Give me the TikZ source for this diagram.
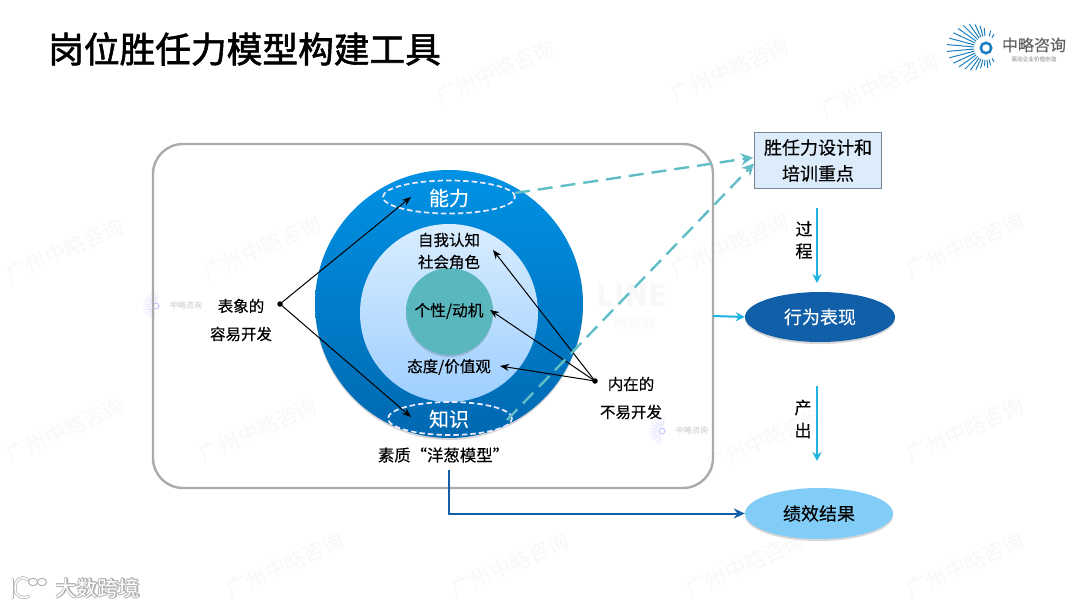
\documentclass[tikz,border=0pt]{standalone}
\usepackage{fontspec}
\setmainfont{Noto Sans CJK SC}
\newfontfamily\titlefont[FakeBold=1.6]{Noto Sans CJK SC}
\newfontfamily\semifont[FakeBold=0.25]{Noto Sans CJK SC}
\usetikzlibrary{shapes.geometric,shadows,arrows.meta,calc}
\newcommand{\pxfont}[2]{\fontsize{#1}{#2}\selectfont}
\definecolor{cyanline}{HTML}{1DB4E2}
\definecolor{tealdash}{HTML}{62BEC6}
\definecolor{navy}{HTML}{115FA8}
\definecolor{wm}{HTML}{F8F8F8}
\definecolor{logoblue}{HTML}{1C7FC0}
\tikzset{
  softshadow/.style={drop shadow={shadow xshift=0pt,shadow yshift=-2pt,opacity=0.16,fill=black}},
  ring/.style={circle,inner sep=0pt},
  dashring/.style={ellipse,draw=white!92!blue,line width=1.7pt,dash pattern=on 5.5pt off 3pt,inner sep=0pt},
  lbl/.style={inner sep=0pt,align=center,text=black,execute at begin node=\semifont},
  flowell/.style={ellipse,inner sep=0pt,minimum width=150pt,minimum height=50pt,softshadow},
  blk/.style={-{Stealth[length=9pt,width=7pt]},line width=1pt,black},
  tealarrow/.style={tealdash,line width=2.4pt,dash pattern=on 15pt off 8pt,-{Stealth[length=12pt,width=12pt]}},
  cyanarrow/.style={cyanline,line width=2pt,-{Stealth[length=9pt,width=9pt]}},
  dotnode/.style={circle,fill=black,inner sep=0pt,minimum size=5.5pt},
  wmark/.style={text=wm,rotate=24,inner sep=0pt,font=\pxfont{21}{21}},
}
\begin{document}
\begin{tikzpicture}[x=1pt,y=-1pt]
\useasboundingbox (0,0) rectangle (1080,608);
\fill[white] (0,0) rectangle (1080,608);
% watermarks
\foreach \wx/\wy [count=\wi] in {495/72,730/70,880/85,65/250,262/248,730/245,965/245,65/430,258/430,765/440,965/430,285/565,510/565,745/565,965/565}{
  \node[wmark] (wm\wi) at (\wx,\wy) {广州中略咨询};
}
\node[inner sep=0pt,text=wm,font=\bfseries\pxfont{30}{30}] (wline) at (632,295) {LINE};
\node[inner sep=0pt,text=wm,font=\pxfont{14}{14}] (wline2) at (634,323) {略咨询};
% small ghost logos
\foreach \lx/\ly/\ln in {170/306/a,676/431/b}{
  \foreach \ang in {100,115,...,280}{
    \draw[blue!30!white,opacity=0.4,line width=0.7pt] (\lx-14,\ly) ++(\ang:5) -- ++(\ang:8);
  }
  \draw[blue!40!white,opacity=0.5,line width=1.2pt] (\lx-14,\ly) circle (3);
  \node[inner sep=0pt,text=black!22,font=\pxfont{8}{8}] (ghost\ln) at (\lx+16,\ly-1) {中略咨询};
}
% title
\node[anchor=west,inner sep=0pt,text=black,font=\titlefont\pxfont{35.7}{36}] (title) at (48,49) {岗位胜任力模型构建工具};
% main rounded box
\draw[black!33,line width=2.4pt,rounded corners=30pt] (153,144) rectangle (713,488);
% onion
\node[ring,minimum size=268pt,shade,top color={rgb,255:red,0;green,146;blue,229},bottom color={rgb,255:red,0;green,104;blue,176},softshadow] (outer) at (449,304) {};
\node[ring,minimum size=178pt,shade,top color={rgb,255:red,217;green,237;blue,255},bottom color={rgb,255:red,158;green,207;blue,255}] (inner) at (449,313) {};
\node[ring,minimum size=87pt,fill={rgb,255:red,91;green,183;blue,190},softshadow] (core) at (449.5,311.5) {};
\node[dashring,minimum width=132pt,minimum height=33pt] (ability) at (449,197) {};
\node[dashring,minimum width=124pt,minimum height=33pt] (knowledge) at (450,418.5) {};
\node[lbl,text=white,font=\pxfont{20}{20}] (abilityT) at (449,198) {能力};
\node[lbl,text=white,font=\pxfont{20}{20}] (knowT) at (449,419) {知识};
\node[lbl,font=\pxfont{15.5}{22}] (self) at (449,251) {自我认知\\社会角色};
\node[lbl,font=\pxfont{15.7}{16}] (trait) at (449,311) {个性/动机};
\node[lbl,font=\pxfont{15.5}{16}] (attitude) at (449,367) {态度/价值观};
\node[lbl,font=\pxfont{16.4}{17}] (onion) at (443.5,455) {素质“洋葱模型”};
% left/right labels
\node[lbl,font=\pxfont{15.5}{15.5}] (surf1) at (241,306) {表象的};
\node[lbl,font=\pxfont{15.5}{15.5}] (surf2) at (241,334) {容易开发};
\node[lbl,font=\pxfont{15.5}{15.5}] (in1) at (631,384) {内在的};
\node[lbl,font=\pxfont{15.5}{15.5}] (in2) at (631,412) {不易开发};
\node[dotnode] (dotL) at (280,304) {};
\node[dotnode] (dotR) at (595,381) {};
\coordinate (abilityEnd) at (411,197);
\coordinate (knowEnd) at (411,417);
\coordinate (selfEnd) at (493,250);
\coordinate (traitEnd) at (490,310);
\coordinate (attEnd) at (500,366);
\draw[blk] (dotL.center) -- (abilityEnd);
\draw[blk] (dotL.center) -- (knowEnd);
\draw[blk] (dotR.center) -- (selfEnd);
\draw[blk] (dotR.center) -- (traitEnd);
\draw[blk] (dotR.center) -- (attEnd);
% right column
\node[draw={rgb,255:red,120;green,135;blue,150},line width=1pt,fill={rgb,255:red,220;green,236;blue,251},minimum width=127pt,minimum height=56pt,inner sep=0pt,align=center,font=\semifont\pxfont{18}{26},anchor=north west] (design) at (754,132) {胜任力设计和\\培训重点};
\node[flowell,fill=navy,text=white,font=\semifont\pxfont{18}{18}] (behave) at (820,317) {行为表现};
\node[flowell,fill={rgb,255:red,130;green,205;blue,247},text=black,font=\semifont\pxfont{18}{18},minimum width=148pt,minimum height=51pt] (result) at (819,513.5) {绩效结果};
\coordinate (a1) at (817,208);
\coordinate (a2) at (817,283);
\coordinate (b1) at (817,386);
\coordinate (b2) at (817,461);
\draw[cyanarrow] (a1) -- (a2);
\draw[cyanarrow] (b1) -- (b2);
\node[lbl,font=\pxfont{17}{22}] (guo) at (804,240) {过\\程};
\node[lbl,font=\pxfont{17}{23}] (chan) at (803,419) {产\\出};
\coordinate (boxR) at (713,316);
\draw[cyanarrow] (boxR) -- (behave.west);
\coordinate (onionB) at (449,470);
\draw[navy,line width=2pt,-{Stealth[length=11pt,width=10pt]}] (onionB) |- (result.west);
\coordinate (abR) at (515,193);
\coordinate (knR) at (507,420);
\draw[tealarrow] (abR) -- ($(design.west)+(-1,-3)$);
\draw[tealarrow] (knR) -- ($(design.west)+(0,3)$);
% logo
\foreach \ang/\len in {95/6,105/9,115/12,125/15,135/18,145/21,155/24,165/26,175/27,185/27,195/26,205/24,215/22,225/20,235/17,245/14,255/11,265/8,75/6,85/8,60/4,285/6,300/4}{
  \draw[logoblue,line width=1pt] (986,48) ++(\ang:12) -- ++(\ang:\len);
}
\draw[logoblue,line width=2.6pt] (986,48) circle (5.2);
\node[inner sep=0pt,text=black!62,font=\semifont\pxfont{16}{16}] (logot) at (1034,45) {中略咨询};
\node[inner sep=0pt,text=black!50,font=\pxfont{5.6}{6}] (logos) at (1034,59.5) {驱动企业价值创造};
% bottom-left stamp
\foreach \dx/\dy in {-1/0,1/0,0/-1,0/1,-.7/-.7,.7/.7,-.7/.7,.7/-.7}{
  \node[inner sep=0pt,text=black!30,font=\pxfont{21}{21}] at (98+\dx,588+\dy) {大数跨境};
}
\node[inner sep=0pt,text=white,font=\pxfont{21}{21}] (stamp) at (98,588) {大数跨境};
\def\stampC{(28,580) .. controls (20,574) and (15,581) .. (15,588) .. controls (15,596) and (22,600) .. (29,596)}
\draw[black!30,line width=3pt,line cap=round] (12,579) -- (12,598);
\draw[black!30,line width=3pt,line cap=round] \stampC;
\draw[white,line width=1.6pt,line cap=round] (12,579) -- (12,598);
\draw[white,line width=1.6pt,line cap=round] \stampC;
\draw[black!30,line width=1pt,fill=white] (33,582) ellipse (4.5 and 3.8);
\draw[black!30,line width=1pt,fill=white] (42,582) ellipse (4.5 and 3.8);
\end{tikzpicture}
\end{document}
